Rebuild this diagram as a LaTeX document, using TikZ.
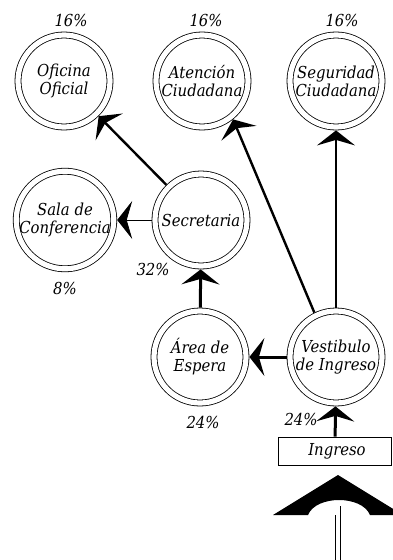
\documentclass[tikz,border=0pt]{standalone}
\usepackage{fontspec}
\setmainfont{DejaVu Serif Condensed}
\usetikzlibrary{arrows.meta}
\begin{document}
\begin{tikzpicture}[x=1pt,y=-1pt,
  room/.style={circle,draw,double,line width=0.8pt,double distance=5.2pt,
    minimum size=92pt,inner sep=0pt,outer sep=3.4pt,align=center,
    font=\fontsize{16.5}{18}\selectfont\itshape},
  pct/.style={font=\fontsize{16.5}{18}\selectfont\itshape,inner sep=0pt},
  flow/.style={-{Stealth[length=15pt,width=38pt,inset=5.5pt]}},
  thick3/.style={flow,line width=3pt},
  thick2/.style={flow,line width=2.4pt},
  thin1/.style={flow,line width=0.8pt}]
\useasboundingbox (0,0) rectangle (392,560);
\node[room] (ofi) at (64,81) {Oficina\\Oficial};
\node[room] (ate) at (202,81) {Atención\\Ciudadana};
\node[room] (seg) at (336,81) {Seguridad\\Ciudadana};
\node[room] (sala) at (65,220) {Sala de\\Conferencia};
\node[room] (sec) at (201,220) {Secretaria};
\node[room] (area) at (200,357) {Área de\\Espera};
\node[room] (ves) at (336,357) {Vestibulo\\de Ingreso};
\node[pct] (p1) at (71,20) {16\%};
\node[pct] (p2) at (206,20) {16\%};
\node[pct] (p3) at (342,20) {16\%};
\node[pct] (p4) at (153,269) {32\%};
\node[pct] (p5) at (65,288) {8\%};
\node[pct] (p6) at (203,422) {24\%};
\node[draw,line width=0.8pt,minimum width=113pt,minimum height=28pt,inner sep=0pt,
  font=\fontsize{16.5}{18}\selectfont\itshape] (ing) at (335,451) {\hspace*{4pt}Ingreso};
\draw[thick2] (sec) -- (ofi);
\draw[thick2] (ves.116) -- (ate.-51);
\draw[thick2] (ves) -- (seg);
\draw[thin1] (sec) -- (sala);
\draw[thick3] (area) -- (sec);
\draw[thick3] (ves) -- (area);
\draw[thick3] (ing) -- (ves);
\node[pct] (p7) at (301,419) {24\%};
% big entrance arrow
\fill (273,515) -- (338,475) -- (403,515) -- (370,515)
  .. controls (362,495) and (316,495) .. (308,515) -- cycle;
\coordinate (s1a) at (335.7,515);
\coordinate (s1b) at (335.7,560);
\coordinate (s2a) at (340.7,506);
\coordinate (s2b) at (340.7,560);
\draw[line width=0.9pt] (s1a) -- (s1b);
\draw[line width=0.9pt] (s2a) -- (s2b);
\end{tikzpicture}
\end{document}
